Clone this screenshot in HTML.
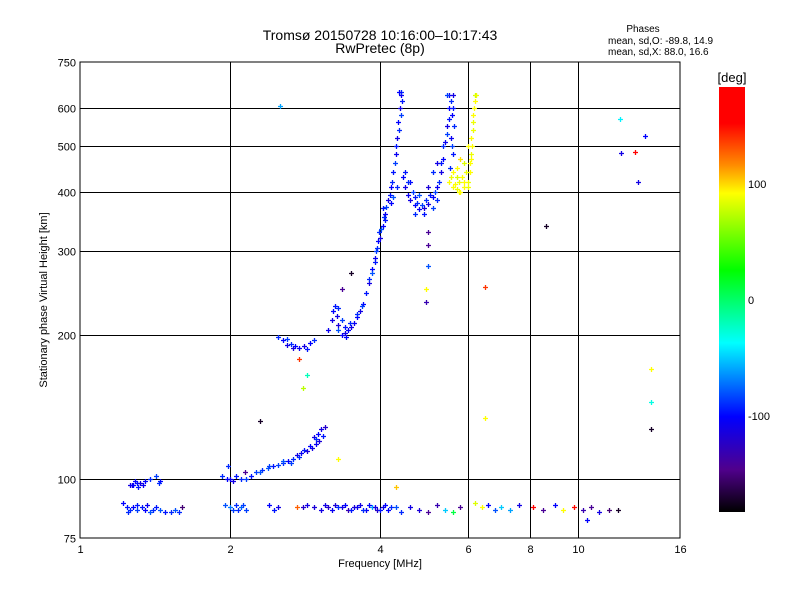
<!DOCTYPE html>
<html><head><meta charset="utf-8"><style>
body{margin:0;background:#fff;}
svg{display:block;font-family:"Liberation Sans",sans-serif;}
</style></head><body>
<svg id="chart" width="800" height="600" viewBox="0 0 800 600">
<defs><linearGradient id="cb" x1="0" y1="1" x2="0" y2="0">
<stop offset="0" stop-color="#000"/><stop offset="0.1" stop-color="#50008c"/><stop offset="0.224" stop-color="#0000ff"/>
<stop offset="0.398" stop-color="#00ffff"/><stop offset="0.569" stop-color="#00ff00"/><stop offset="0.75" stop-color="#ffff00"/>
<stop offset="0.816" stop-color="#ff8c00"/><stop offset="0.915" stop-color="#ff0000"/><stop offset="1" stop-color="#ff0000"/>
</linearGradient></defs>
<text x="380" y="40" text-anchor="middle" font-size="14">Tromsø 20150728 10:16:00–10:17:43</text>
<text x="380" y="53" text-anchor="middle" font-size="14">RwPretec (8p)</text>
<text x="643" y="32" text-anchor="middle" font-size="10">Phases</text>
<text x="608" y="44" font-size="10">mean, sd,O: -89.8, 14.9</text>
<text x="608" y="55" font-size="10">mean, sd,X:  88.0, 16.6</text>
<g id="grid"></g>
<g id="marks"></g>
<rect x="80" y="62" width="600" height="476" fill="none" stroke="#000" stroke-width="1"/>
<g id="ticks"></g>
<text x="380" y="567" text-anchor="middle" font-size="11">Frequency [MHz]</text>
<text transform="translate(47,300) rotate(-90)" text-anchor="middle" font-size="11">Stationary phase Virtual Height [km]</text>
<rect x="719" y="87" width="26" height="425" fill="url(#cb)"/>
<text x="732" y="82" text-anchor="middle" font-size="13">[deg]</text>
<g id="cbticks"></g>
</svg>
<script>
const xTicks=[1,2,4,6,8,10,16];
const yTicks=[75,100,200,300,400,500,600,750];
const cbTicks=[100,0,-100];
const freqs=[1.26,1.27,1.28,1.30,1.32,1.35,1.38,1.42,1.45,
1.22,1.24,1.26,1.28,1.30,1.33,1.36,1.40,1.45,1.48,1.52,1.55,1.60,1.38,
1.93,1.97,2.0,2.03,2.06,2.10,2.15,2.20,2.26,2.32,2.38,2.44,2.50,2.56,2.62,2.68,2.72,2.78,2.85,2.92,2.98,3.02,2.95,3.05,3.10,2.14,1.98,
1.95,2.0,2.03,2.06,2.10,2.15,2.4,2.45,2.5,2.72,2.8,2.85,2.95,3.05,3.15,3.25,3.35,3.45,3.55,3.65,3.75,3.85,3.95,4.05,4.15,4.30,4.40,4.6,4.8,5.0,5.2,5.4,5.6,5.8,6.2,6.4,6.6,6.8,7.0,7.3,7.6,8.1,8.5,9.0,9.3,9.8,10.2,10.6,11.0,11.5,12.0,10.4,
2.5,2.55,2.6,2.68,2.75,2.82,2.9,
3.15,3.2,3.22,3.28,3.3,3.36,3.4,3.45,3.5,3.55,3.6,3.65,3.7,3.75,3.8,3.85,3.9,3.95,4.0,4.05,4.1,4.15,4.2,4.25,4.3,4.33,4.35,4.38,4.40,4.42,3.35,3.5,3.98,4.1,4.2,4.05,
4.45,4.5,4.55,4.6,4.7,4.8,4.9,5.0,5.1,5.2,5.3,5.35,5.4,5.45,5.5,5.5,5.6,5.58,5.55,5.6,4.6,4.8,5.0,5.1,5.2,
5.0,5.0,5.0,4.95,4.95,
5.5,5.6,5.7,5.8,5.9,6.0,6.05,6.1,6.12,6.15,6.15,6.2,5.6,5.7,5.8,5.9,6.0,6.2,
2.52,12.1,12.2,13.0,13.6,13.2,8.6,6.5,6.5,14,14,14,3.3,4.3,2.3,2.8,2.85,2.75,
3.8,3.85,3.9,3.92,3.97,4.02,4.08,4.12,4.18,4.22,4.28,4.31,4.36,4.40,4.41,4.36,4.25,4.32,
3.25,3.3,3.35,3.4,3.42,3.48,3.3,3.6,3.68,
2.6,2.65,2.7,2.85,2.95,
2.3,2.4,2.55,2.65,2.75,2.82,2.9,2.97,3.0,3.08,
4.5,4.55,4.65,4.7,4.75,4.85,4.95,5.05,5.15,5.25,5.3,5.35,5.45,5.5,5.55,5.45,5.6,5.62,5.58,5.52,4.7,4.9,5.1,5.2,
5.55,5.65,5.75,5.85,5.95,6.05,6.08,6.1,6.15,6.18,6.22,5.7,5.9,6.0,5.75,
3.1,3.2,3.3,3.4,3.5,3.6,3.7,3.8,3.9,4.0,4.1,4.2,1.25,1.3,1.35,1.42,1.58,2.08,2.12,
1.29,1.31,1.34,1.44];
const heights=[97,97,97,98,98,99,100,101,99,
89,87,86,87,86,87,88,86,86,85,85,86,87,85,
101,100,100,99,101,100,100,101,103,104,105,106,107,108,109,110,112,113,114,116,118,120,122,127,128,103,106,
88,87,86,88,87,86,88,86,87,87,87,88,87,86,87,88,87,86,87,88,86,87,86,87,86,87,85,87,86,85,88,86,85,87,89,87,88,86,87,86,88,87,86,88,86,87,86,87,85,86,86,82,
198,195,191,188,188,190,193,
205,215,225,220,210,200,202,205,208,212,218,225,233,245,258,275,290,305,320,340,360,385,410,440,480,520,560,600,640,620,250,270,330,350,380,370,
430,410,395,385,375,368,370,378,390,410,440,470,510,550,600,640,640,580,520,480,420,395,410,440,460,
330,310,280,250,235,
420,410,405,400,410,420,440,470,500,540,580,620,440,450,470,460,500,640,
607,570,483,485,524,420,340,253,134,170,145,127,110,96,132,155,165,178,
262,270,285,300,315,335,355,372,395,420,460,500,540,580,650,650,390,410,
230,228,215,208,198,212,205,222,230,
196,192,190,187,195,
103,106,109,108,111,115,117,121,124,123,
440,420,400,390,380,375,385,395,400,420,460,500,530,570,620,640,600,550,500,450,360,360,370,385,
430,415,420,430,440,460,480,520,560,600,640,430,420,410,400,
88,86,87,88,86,87,86,88,87,86,88,87,85,88,86,87,85,86,88,
99,96,97,98];
const phases=[-110,-105,-100,-95,-110,-100,-90,-85,-100,
-100,-95,-90,-100,-85,-95,-105,-90,-80,-95,-90,-80,-150,-80,
-90,-100,-105,-110,-95,-90,-85,-95,-85,-90,-80,-95,-85,-90,-100,-90,-110,-105,-115,-110,-105,-115,-110,-110,-120,-140,-90,
-80,-70,-85,-90,-75,-85,-100,-95,-110,130,-120,-110,-115,-110,-120,-115,-110,-130,-115,-110,-105,-60,-120,-110,-100,-80,-90,-110,-115,-140,-130,-50,10,-140,90,100,-100,-80,-50,-60,-110,170,-140,-100,100,150,-130,-140,-110,-150,-170,-100,
-90,-100,-110,-115,-105,-110,-100,
-105,-110,-100,-110,-115,-105,-110,-100,-110,-105,-100,-110,-100,-95,-110,-100,-105,-90,-110,-100,-105,-110,-100,-95,-105,-110,-100,-110,-105,-95,-140,-170,-90,-95,-100,-95,
-100,-110,-105,-110,-100,-105,-115,-110,-100,-105,-110,-100,-105,-110,-100,-105,-110,-100,-105,-95,-100,-80,-115,-90,-110,
-140,-140,-80,100,-130,
100,100,95,100,100,95,100,100,100,95,100,100,100,100,105,90,100,85,
-60,-40,-110,170,-100,-110,-170,140,100,100,-30,-170,100,110,-170,80,-20,140,
-90,-80,-95,-85,-100,-80,-90,-85,-95,-90,-85,-95,-90,-85,-90,-100,-80,-90,
-95,-90,-85,-95,-100,-90,-80,-90,-85,
-85,-90,-100,-95,-90,
-80,-85,-80,-85,-90,-95,-100,-90,-100,-95,
-95,-90,-85,-95,-90,-85,-90,-95,-85,-90,-95,-90,-85,-95,-90,-85,-95,-90,-85,-90,-90,-95,-85,-90,
95,100,95,100,95,100,95,100,95,100,95,90,100,95,100,
-110,-105,-90,-100,-95,-105,-90,-100,-110,-95,-100,-90,-90,-95,-100,-95,-90,-90,-85,
-100,-95,-105,-90];

const X0=80,X1=680,Y0=538,Y1=62;
function xs(f){return X0+(X1-X0)*Math.log2(f)/4;}
function ys(h){return Y0-(Y0-Y1)*Math.log10(h/75);}
const stops=[[-180,[0,0,0]],[-144,[80,0,140]],[-100,[0,0,255]],[-37,[0,255,255]],[26,[0,255,0]],[100,[255,255,0]],[120,[255,140,0]],[152,[255,0,0]],[180,[255,0,0]]];
function col(v){for(let i=1;i<stops.length;i++){if(v<=stops[i][0]){const a=stops[i-1],b=stops[i];const t=(v-a[0])/(b[0]-a[0]);const c=a[1].map((q,k)=>Math.round(q+(b[1][k]-q)*Math.max(0,t)));return `rgb(${c})`;}}return 'rgb(255,0,0)';}
const NS='http://www.w3.org/2000/svg';
function mk(tag,attrs,parent){const e=document.createElementNS(NS,tag);for(const k in attrs)e.setAttribute(k,attrs[k]);parent.appendChild(e);return e;}
const grid=document.getElementById('grid'),ticks=document.getElementById('ticks'),marks=document.getElementById('marks'),cbt=document.getElementById('cbticks');
xTicks.forEach(t=>{const x=Math.round(xs(t))+0.5;
 if(t>1&&t<16){const l=mk('line',{x1:x,y1:Y1,x2:x,y2:Y0,stroke:'#000','stroke-width':1},grid);
 
 }
 const tx=mk('text',{x:x,y:553,'text-anchor':'middle','font-size':11},ticks);tx.textContent=t;
 
 });
yTicks.forEach(t=>{const y=Math.round(ys(t))+0.5;
 if(t>75&&t<750){const l=mk('line',{x1:X0,y1:y,x2:X1,y2:y,stroke:'#000','stroke-width':1},grid);
 
 }
 const tx=mk('text',{x:76,y:y+4,'text-anchor':'end','font-size':11},ticks);tx.textContent=t;
 
 });
cbTicks.forEach(v=>{const y=300-v*1.16;
 const tx=mk('text',{x:748,y:y+4,'font-size':11},cbt);tx.textContent=v;
 
 });
for(let i=0;i<freqs.length;i++){const x=Math.round(xs(freqs[i])),y=Math.round(ys(heights[i]));
 const p=mk('path',{d:`M${x-2} ${y+0.5}h5M${x+0.5} ${y-2}v5`,stroke:col(phases[i]),'stroke-width':1.3,fill:'none'},marks);
 
 }
</script>
</body></html>
